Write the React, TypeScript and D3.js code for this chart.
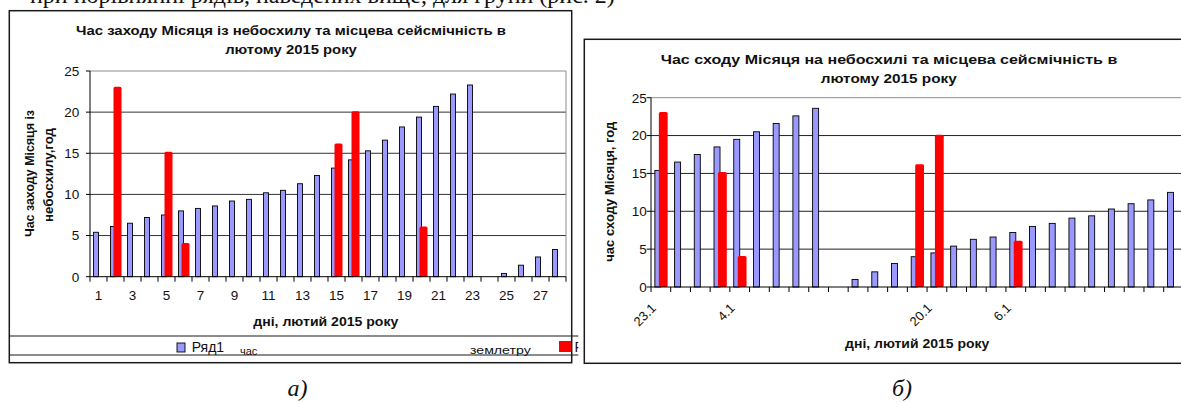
import React from 'react';
import * as d3 from 'd3';

// ---- chart a) : moonset hour, February 2015 ----
const daysA = ['1', '2', '3', '4', '5', '6', '7', '8', '9', '10', '11', '12', '13', '14',
  '15', '16', '17', '18', '19', '20', '21', '22', '23', '24', '25', '26', '27', '28'];
const moonsetA: (number | null)[] = [5.4, 6.1, 6.5, 7.2, 7.5, 8.0, 8.3, 8.6, 9.2, 9.4, 10.2, 10.5, 11.3, 12.3,
  13.2, 14.2, 15.3, 16.6, 18.2, 19.4, 20.7, 22.2, 23.3, null, 0.4, 1.4, 2.4, 3.3];
const quakeA: (number | null)[] = [null, 23.1, null, null, 15.2, 4.1, null, null, null, null, null, null, null, null,
  16.2, 20.1, null, null, null, 6.1, null, null, null, null, null, null, null, null];
const tickLabelsA = ['1', '3', '5', '7', '9', '11', '13', '15', '17', '19', '21', '23', '25', '27'];

// ---- chart b) : moonrise hour, February 2015 ----
const daysB = ['2', '3', '4', '5', '6', '7', '8', '9', '10', '11', '12', '13', '14', '15',
  '16', '17', '18', '19', '20', '21', '22', '23', '24', '25', '26', '27', '28'];
const moonriseB: (number | null)[] = [15.4, 16.5, 17.5, 18.5, 19.5, 20.5, 21.6, 22.6, 23.6, null, 1.0, 2.0, 3.1, 4.0,
  4.5, 5.4, 6.3, 6.6, 7.2, 8.0, 8.4, 9.1, 9.4, 10.3, 11.0, 11.5, 12.5];
const quakeB: (number | null)[] = [23.1, null, null, 15.2, 4.1, null, null, null, null, null, null, null, null, 16.2,
  20.1, null, null, null, 6.1, null, null, null, null, null, null, null, null];
const tickLabelsB = ['23.1', '', '', '', '4.1', '', '', '', '', '', '', '', '', '',
  '20.1', '', '', '', '6.1', '', '', '', '', '', '', '', ''];

const yTicks = [0, 5, 10, 15, 20, 25];

const FONT = '"Liberation Sans", Arial, sans-serif';
const SERIF = '"Liberation Serif", "Times New Roman", serif';
const BLUE = '#9999ff';
const RED = '#ff0000';

const ChartA: React.FC = () => {
  const x = d3.scaleBand<string>().domain(daysA).range([90, 566]);
  const y = d3.scaleLinear().domain([0, 25]).range([276.7, 71]);
  const bw = x.bandwidth();
  const cx = (d: string) => (x(d) ?? 0) + bw / 2;
  const bounds = [...daysA.map((d) => x(d) ?? 0), 566];

  return (
    <g fontFamily={FONT}>
      <rect x={9.3} y={10.7} width={562.4} height={352} fill="#fff" stroke="#1a1a1a" strokeWidth={1.5} />
      {/* title */}
      <g fontWeight="bold" fontSize={12} textAnchor="middle" fill="#111">
        <text x={291} y={35.3} textLength={430} lengthAdjust="spacingAndGlyphs">
          Час заходу Місяця із небосхилу та місцева сейсмічність в
        </text>
        <text x={291} y={53.6} textLength={131.7} lengthAdjust="spacingAndGlyphs">лютому 2015 року</text>
      </g>
      {/* grid */}
      {yTicks.filter((t) => t > 0).map((t) => (
        <line key={t} x1={90} x2={566} y1={y(t)} y2={y(t)} stroke={t === 25 ? '#8c8c8c' : '#333'} strokeWidth={1} />
      ))}
      <line x1={566} x2={566} y1={y(25)} y2={y(0)} stroke="#8c8c8c" />
      {/* bars */}
      {daysA.map((d, i) =>
        moonsetA[i] == null ? null : (
          <rect key={'b' + d} x={cx(d) - 5} y={y(moonsetA[i] as number)} width={5}
            height={y(0) - y(moonsetA[i] as number)} fill={BLUE} stroke="#000" strokeWidth={0.9} />
        )
      )}
      {daysA.map((d, i) =>
        quakeA[i] == null ? null : (
          <rect key={'r' + d} x={cx(d) - 2} y={y(quakeA[i] as number)} width={8}
            height={y(0) - y(quakeA[i] as number)} fill={RED} rx={1.5} />
        )
      )}
      {/* axes */}
      <line x1={90} x2={90} y1={y(25)} y2={y(0)} stroke="#000" />
      <line x1={90} x2={566} y1={y(0)} y2={y(0)} stroke="#000" />
      {yTicks.map((t) => (
        <g key={t}>
          <line x1={86} x2={90} y1={y(t)} y2={y(t)} stroke="#000" />
          <text x={79.3} y={y(t) + 4.8} fontSize={13.5} textAnchor="end" fill="#111">{t}</text>
        </g>
      ))}
      {bounds.map((b, i) => (
        <line key={i} x1={b} x2={b} y1={y(0)} y2={y(0) + 5} stroke="#000" />
      ))}
      {tickLabelsA.map((l) => (
        <text key={l} x={cx(l)} y={299.8} fontSize={13.5} textAnchor="middle" fill="#111">{l}</text>
      ))}
      <text x={325.8} y={326} fontSize={12} fontWeight="bold" textAnchor="middle" textLength={145}
        lengthAdjust="spacingAndGlyphs" fill="#111">дні, лютий 2015 року</text>
      <g fontSize={12} fontWeight="bold" textAnchor="middle" fill="#111">
        <text transform="translate(29.3,173.5) rotate(-90)" dy="0.35em" textLength={127} lengthAdjust="spacingAndGlyphs">
          Час заходу Місяця із
        </text>
        <text transform="translate(48.3,175) rotate(-90)" dy="0.35em" textLength={94} lengthAdjust="spacingAndGlyphs">
          небосхилу,год
        </text>
      </g>
      {/* legend strip */}
      <line x1={9.3} x2={578.3} y1={336} y2={336} stroke="#1a1a1a" strokeWidth={1.2} />
      <line x1={9.3} x2={578.3} y1={355} y2={355} stroke="#1a1a1a" strokeWidth={1.2} />
      <defs>
        <clipPath id="legclip">
          <rect x={9} y={330} width={569.3} height={40} />
        </clipPath>
      </defs>
      <g clipPath="url(#legclip)" fill="#111">
        <rect x={177} y={343} width={8} height={9} fill={BLUE} stroke="#000" strokeWidth={0.9} />
        <text x={191.7} y={352} fontSize={14}>Ряд1</text>
        <text x={240} y={354.5} fontSize={11}>час</text>
        <text x={470} y={353.5} fontSize={11} textLength={60.7} lengthAdjust="spacingAndGlyphs">землетру</text>
        <rect x={559} y={341} width={12} height={11} fill={RED} />
        <text x={574.5} y={352} fontSize={14}>Ряд2</text>
      </g>
    </g>
  );
};

const ChartB: React.FC = () => {
  const x = d3.scaleBand<string>().domain(daysB).range([651, 1183.4]);
  const y = d3.scaleLinear().domain([0, 25]).range([287, 97.7]);
  const bw = x.bandwidth();
  const cx = (d: string) => (x(d) ?? 0) + bw / 2;
  const bounds = [...daysB.map((d) => x(d) ?? 0), 1183.4];

  return (
    <g fontFamily={FONT}>
      <rect x={584.3} y={39.3} width={610} height={324} fill="#fff" stroke="#1a1a1a" strokeWidth={1.5} />
      <g fontWeight="bold" fontSize={12} textAnchor="middle" fill="#111">
        <text x={889} y={64.3} textLength={456.6} lengthAdjust="spacingAndGlyphs">
          Час сходу Місяця на небосхилі  та місцева сейсмічність в
        </text>
        <text x={888.7} y={82.6} textLength={136} lengthAdjust="spacingAndGlyphs">лютому 2015 року</text>
      </g>
      {yTicks.filter((t) => t > 0).map((t) => (
        <line key={t} x1={651} x2={1183.4} y1={y(t)} y2={y(t)} stroke={t === 25 ? '#8c8c8c' : '#222'} strokeWidth={1} />
      ))}
      {daysB.map((d, i) =>
        moonriseB[i] == null ? null : (
          <rect key={'b' + d} x={cx(d) - 6} y={y(moonriseB[i] as number)} width={6}
            height={y(0) - y(moonriseB[i] as number)} fill={BLUE} stroke="#000" strokeWidth={0.9} />
        )
      )}
      {daysB.map((d, i) =>
        quakeB[i] == null ? null : (
          <rect key={'r' + d} x={cx(d) - 2} y={y(quakeB[i] as number)} width={8.8}
            height={y(0) - y(quakeB[i] as number)} fill={RED} rx={1.5} />
        )
      )}
      <line x1={651} x2={651} y1={y(25)} y2={y(0)} stroke="#000" />
      <line x1={651} x2={1183.4} y1={y(0)} y2={y(0)} stroke="#000" />
      {yTicks.map((t) => (
        <g key={t}>
          <line x1={646.7} x2={651} y1={y(t)} y2={y(t)} stroke="#000" />
          <text x={646.7} y={y(t) + 4.8} fontSize={13.5} textAnchor="end" fill="#111">{t}</text>
        </g>
      ))}
      {bounds.map((b, i) => (
        <line key={i} x1={b} x2={b} y1={y(0)} y2={y(0) + 5} stroke="#000" />
      ))}
      {daysB.map((d, i) =>
        tickLabelsB[i] ? (
          <text key={'l' + d} transform={`translate(${cx(d) - 4},309) rotate(-45)`} fontSize={13}
            textAnchor="end" fill="#111">{tickLabelsB[i]}</text>
        ) : null
      )}
      <text x={917.2} y={347.6} fontSize={12} fontWeight="bold" textAnchor="middle" textLength={144.3}
        lengthAdjust="spacingAndGlyphs" fill="#111">дні, лютий 2015 року</text>
      <text transform="translate(609.3,191.7) rotate(-90)" dy="0.35em" fontSize={12} fontWeight="bold"
        textAnchor="middle" textLength={140} lengthAdjust="spacingAndGlyphs" fill="#111">час сходу Місяця, год</text>
    </g>
  );
};

export default function App() {
  return (
    <svg width={1181} height={402} style={{ position: 'absolute', left: 0, top: 0, background: '#fff' }}>
      <rect x={0} y={0} width={1181} height={402} fill="#fff" />
      {/* cut-off line of the surrounding document (only its lower edge is inside the picture) */}
      <text x={30} y={2.5} fontFamily={SERIF} fontSize={24} fill="#111">
        при порівнянні рядів, наведених вище, для групи (рис. 2)
      </text>
      <ChartA />
      <ChartB />
      <text x={297.5} y={396} fontFamily={SERIF} fontStyle="italic" fontSize={24} textAnchor="middle" fill="#111">а)</text>
      <text x={902} y={396} fontFamily={SERIF} fontStyle="italic" fontSize={24} textAnchor="middle" fill="#111">б)</text>
    </svg>
  );
}
